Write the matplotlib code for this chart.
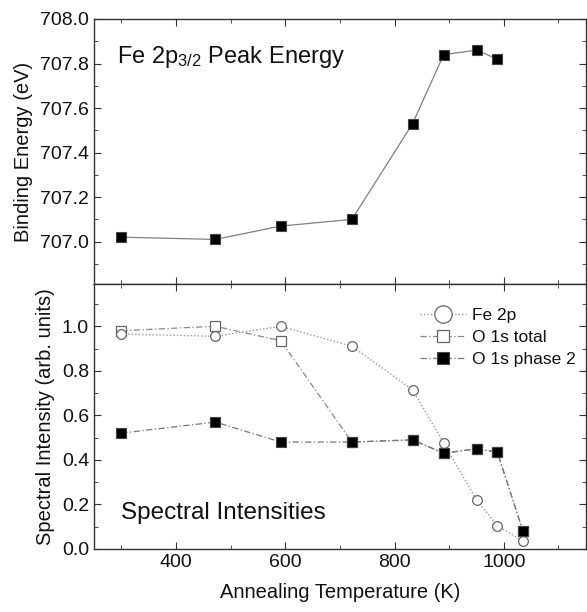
import numpy as np
import matplotlib
matplotlib.use('Agg')
import matplotlib.pyplot as plt
from matplotlib.ticker import MultipleLocator, FormatStrFormatter

plt.rcParams['font.family'] = ['Liberation Sans', 'DejaVu Sans']
plt.rcParams['mathtext.fontset'] = 'custom'
plt.rcParams['mathtext.rm'] = 'Liberation Sans'
plt.rcParams['mathtext.it'] = 'Liberation Sans'

# Annealing temperatures (K)
temps = [300, 472, 592, 722, 833, 890, 950, 988]
temps_low = [300, 472, 592, 722, 833, 890, 950, 988, 1035]

# Fe 2p3/2 peak binding energy (eV)
peak_energy = [707.02, 707.01, 707.07, 707.10, 707.53, 707.84, 707.86, 707.82]

# Spectral intensities (arb. units)
fe2p = [0.965, 0.955, 1.0, 0.91, 0.715, 0.475, 0.22, 0.105, 0.035]
o1s_total = [0.98, 1.0, 0.935, 0.48, 0.49, 0.43, 0.45, 0.435, 0.08]
o1s_phase2 = [0.52, 0.57, 0.48, 0.48, 0.49, 0.43, 0.45, 0.435, 0.08]

fig = plt.figure(figsize=(5.87, 6.12), dpi=100)
ax1 = fig.add_axes([0.160, 0.536, 0.838, 0.433])
ax2 = fig.add_axes([0.160, 0.103, 0.838, 0.433], sharex=ax1)

spine_col = '#333333'
txt_col = '#111111'
for ax in (ax1, ax2):
    for s in ax.spines.values():
        s.set_color(spine_col)
        s.set_linewidth(1.0)
    ax.tick_params(which='both', direction='in', top=True, right=True,
                   colors=spine_col, labelcolor=txt_col, labelsize=14)
    ax.tick_params(which='major', length=5)
    ax.tick_params(which='minor', length=3)
    ax.xaxis.set_major_locator(MultipleLocator(200))
    ax.xaxis.set_minor_locator(MultipleLocator(100))

# --- upper panel: peak energy ---
ax1.plot(temps, peak_energy, '-', color='#808080', lw=0.9,
         marker='s', ms=6.5, mfc='black', mec='#444444', mew=0.8)
ax1.set_xlim(250, 1150)
ax1.set_ylim(706.81, 708.0)
ax1.yaxis.set_major_locator(MultipleLocator(0.2))
ax1.yaxis.set_minor_locator(MultipleLocator(0.1))
ax1.yaxis.set_major_formatter(FormatStrFormatter('%.1f'))
ax1.tick_params(axis='x', labelbottom=False)
ax1.set_ylabel('Binding Energy (eV)', fontsize=14.5, color=txt_col, labelpad=5)
ax1.text(0.047, 0.855, r'Fe 2p$_{3/2}$ Peak Energy', transform=ax1.transAxes,
         fontsize=17, va='center', ha='left', color=txt_col)

# --- lower panel: spectral intensities ---
ax2.plot(temps_low, o1s_total, linestyle=(0, (5, 2, 1, 2)), color='#888888', lw=0.9,
         marker='s', ms=6.5, mfc='white', mec='#666666', mew=0.9, label='O 1s total')
ax2.plot(temps_low, fe2p, linestyle=(0, (1, 1.5)), color='#999999', lw=1.0,
         marker='o', ms=7, mfc='white', mec='#666666', mew=0.9, label='Fe 2p')
ax2.plot(temps_low, o1s_phase2, linestyle=(0, (5, 2, 1, 2)), color='#777777', lw=0.9,
         marker='s', ms=6.5, mfc='black', mec='#444444', mew=0.8, label='O 1s phase 2')
ax2.set_ylim(0, 1.19)
ax2.yaxis.set_major_locator(MultipleLocator(0.2))
ax2.yaxis.set_minor_locator(MultipleLocator(0.1))
ax2.yaxis.set_major_formatter(FormatStrFormatter('%.1f'))
ax2.set_ylabel('Spectral Intensity (arb. units)', fontsize=14.5, color=txt_col, labelpad=5)
ax2.set_xlabel('Annealing Temperature (K)', fontsize=14.5, color=txt_col, labelpad=9)
ax2.text(0.055, 0.135, 'Spectral Intensities', transform=ax2.transAxes,
         fontsize=17.5, va='center', ha='left', color=txt_col)

handles, labels = ax2.get_legend_handles_labels()
order = [1, 0, 2]
leg = ax2.legend([handles[i] for i in order], [labels[i] for i in order],
                 loc='upper right', frameon=False, fontsize=12.5, handlelength=2.7,
                 labelspacing=0.4, handletextpad=0.3, borderaxespad=0.2,
                 bbox_to_anchor=(1.0, 0.95))
leg_sizes = [12.5, 9, 9]
for h, s in zip(leg.legend_handles, leg_sizes):
    h.set_markersize(s)
for t in leg.get_texts():
    t.set_color(txt_col)

fig.savefig('out.png', dpi=100)
